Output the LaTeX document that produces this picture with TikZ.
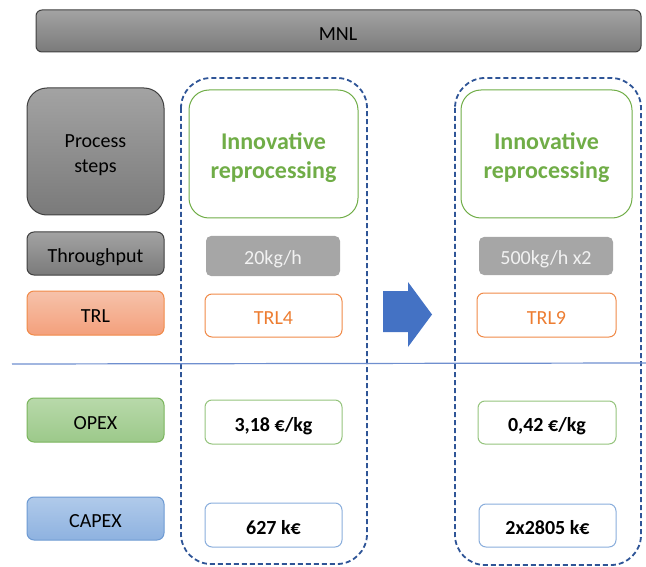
\documentclass[tikz,border=0pt]{standalone}
\usepackage{fontspec}
\setmainfont{Carlito}
\definecolor{darkbd}{HTML}{404040}
\definecolor{greytop}{HTML}{A3A3A3}
\definecolor{greybot}{HTML}{7A7A7A}
\definecolor{orgtop}{HTML}{F6C2AA}
\definecolor{orgbot}{HTML}{F4A07C}
\definecolor{orgbd}{HTML}{F08A48}
\definecolor{orgtxt}{HTML}{ED7D31}
\definecolor{grntop}{HTML}{B8D9AA}
\definecolor{grnbot}{HTML}{9CC98A}
\definecolor{grnbd}{HTML}{7AB55C}
\definecolor{grntxt}{HTML}{70AD47}
\definecolor{blutop}{HTML}{B0CAEA}
\definecolor{blubot}{HTML}{8EB2E0}
\definecolor{blubd}{HTML}{6D9AD3}
\definecolor{dashbl}{HTML}{2F5597}
\definecolor{arrbl}{HTML}{4472C4}
\definecolor{sepln}{HTML}{6F8FCF}
\definecolor{flatgrey}{HTML}{A6A6A6}
\begin{document}
\begin{tikzpicture}[x=1pt,y=-1pt,
  lbl/.style={font=\fontsize{20}{25}\selectfont, text height=19pt, text depth=1pt},
  lbl2/.style={font=\fontsize{20}{25}\selectfont, align=center},
  box/.style={rounded corners=7pt, line width=1pt, inner sep=0pt, font=\fontsize{20}{24}\selectfont,
     text height=19pt, text depth=1pt},
  greybox/.style={box, draw=darkbd, top color=greytop, bottom color=greybot},
  orgbox/.style={box, draw=orgbd, top color=orgtop, bottom color=orgbot},
  grnbox/.style={box, draw=grnbd, top color=grntop, bottom color=grnbot},
  blubox/.style={box, draw=blubd, top color=blutop, bottom color=blubot},
  valbox/.style={box, fill=white},
  boldval/.style={valbox, text=black, font=\bfseries\fontsize{20}{24}\selectfont},
  flatbox/.style={box, fill=flatgrey, draw=none, rounded corners=5pt, text=white!95!black},
  innobox/.style={rounded corners=20pt, draw=grntxt, line width=1pt, fill=white},
  innotext/.style={text=grntxt, font=\bfseries\fontsize{24}{29}\selectfont, align=center},
  dashbox/.style={draw=dashbl, line width=1.8pt, dash pattern=on 5pt off 3pt, rounded corners=30pt},
]
\useasboundingbox (0,0) rectangle (646,567);

% column frames
\draw[dashbox] (181,78) rectangle (367,564);
\draw[dashbox] (455,78) rectangle (641,565);

% header bar
\path[greybox, rounded corners=6pt] (36,10) rectangle (641,52);
\node[lbl] (mnl) at (338,31.5) {MNL};

% row labels
\path[greybox, rounded corners=20pt] (27,88) rectangle (164,215);
\node[lbl2] (steps) at (95.5,155) {Process\\steps};
\path[greybox] (27,232) rectangle (164,275);
\node[lbl] (thr) at (95.5,253.5) {Throughput};
\path[orgbox] (27,291) rectangle (164,335);
\node[lbl] (trl) at (95.5,313) {TRL};
\path[grnbox] (27,398) rectangle (164,442);
\node[lbl] (opex) at (95.5,420) {OPEX};
\path[blubox] (27,497) rectangle (164,540);
\node[lbl] (capex) at (95.5,518.5) {CAPEX};

% separator
\coordinate (sepL) at (12,364);
\coordinate (sepR) at (646,363);
\draw[sepln, line width=1.2pt] (sepL) -- (sepR);

% first column
\path[innobox] (189,90) rectangle (358,218);
\node[innotext] (inno1) at (273.5,158) {Innovative\\reprocessing};
\node[flatbox, minimum width=134pt, minimum height=40pt] (thr1) at (273,256) {20kg/h};
\node[valbox, draw=orgbd, text=orgtxt, minimum width=137pt, minimum height=43pt] (trl1) at (273.5,315.5) {TRL4};
\node[boldval, draw=grnbd!80, minimum width=137pt, minimum height=44pt] (opex1) at (273.5,422) {3,18 €/kg};
\node[boldval, draw=blubd!80, minimum width=137pt, minimum height=44pt] (capex1) at (273.5,525) {627 k€};

% second column
\path[innobox] (461,90) rectangle (632,218);
\node[innotext] (inno2) at (546.5,158) {Innovative\\reprocessing};
\node[flatbox, minimum width=134pt, minimum height=38pt] (thr2) at (546,256) {500kg/h x2};
\node[valbox, draw=orgbd, text=orgtxt, minimum width=139pt, minimum height=44pt] (trl2) at (546.5,315) {TRL9};
\node[boldval, draw=grnbd!80, minimum width=138pt, minimum height=43pt] (opex2) at (547,422.5) {0,42 €/kg};
\node[boldval, draw=blubd!80, minimum width=137pt, minimum height=43pt] (capex2) at (547.5,525.5) {2x2805 k€};

% transition arrow
\fill[arrbl] (383,291) -- (408,291) -- (408,282) -- (432,314.5) -- (408,347) -- (408,332) -- (383,332) -- cycle;
\end{tikzpicture}
\end{document}
